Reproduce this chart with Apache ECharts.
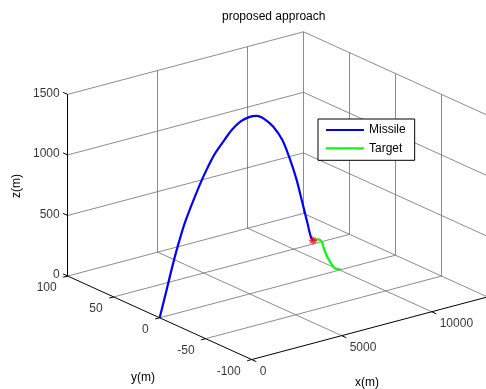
<!DOCTYPE html>
<html>
<head>
<meta charset="utf-8">
<script src="https://cdn.jsdelivr.net/npm/echarts@6/dist/echarts.min.js"></script>
<style>
  html, body { margin: 0; padding: 0; background: #fff; }
  #chart { width: 486px; height: 389px; }
</style>
</head>
<body>
<div id="chart"></div>
<script>
// trajectory samples (metres)
const missileX = [0, 400, 700, 1000, 1400, 1900, 2400, 3000, 3500, 4000, 4500, 5000, 5400, 5800, 6300, 6800, 7200, 7600, 7900, 8200, 8400, 8520];
const missileY = [0, 0, 0, 0, 0, 0, 0, 0, 0, 0, 0, 0, 0, 0, 0, 0, 0, 0, 0, 0, 0, 0];
const missileZ = [0, 225, 395, 550, 730, 905, 1063, 1220, 1310, 1393, 1444, 1462, 1455, 1414, 1331, 1203, 1040, 843, 655, 463, 335, 302];

const targetX = [10017, 9739, 9461, 9183, 9000, 8811, 8520];
const targetY = [0, 0, 0, 0, 0, 0, 0];
const targetZ = [5, 24, 89, 183, 273, 300, 302];

// axes
const xTicks = [0, 5000, 10000];
const yTicks = [-100, -50, 0, 50, 100];
const zTicks = [0, 500, 1000, 1500];
const xLim = [0, 13100];
const yLim = [-100, 100];
const zLim = [0, 1500];

// view: fixed 3d -> screen projection (az/el like the matlab default view)
function proj(x, y, z) {
  return [159.7 + 0.018 * x - 0.92 * y, 317.8 - 0.00478 * x - 0.4175 * y - 0.1211 * z];
}
const seg = (a, b) => ({ coords: [proj(...a), proj(...b)] });

const xmax = xLim[1], ymin = yLim[0], ymax = yLim[1], ztop = zLim[1];

// grey grid on floor and the two back walls
let grid = [];
xTicks.filter(x => x > 0).concat([xmax]).forEach(x => {
  grid.push(seg([x, ymin, 0], [x, ymax, 0]));
  grid.push(seg([x, ymax, 0], [x, ymax, ztop]));
});
yTicks.filter(y => y > ymin).forEach(y => grid.push(seg([0, y, 0], [xmax, y, 0])));
yTicks.filter(y => y < ymax).forEach(y => grid.push(seg([xmax, y, 0], [xmax, y, ztop])));
zTicks.filter(z => z > 0).forEach(z => {
  grid.push(seg([0, ymax, z], [xmax, ymax, z]));
  grid.push(seg([xmax, ymin, z], [xmax, ymax, z]));
});

// black axis lines + ticks
let axes = [
  seg([0, ymax, 0], [0, ymax, ztop]),
  seg([0, ymin, 0], [0, ymax, 0]),
  seg([0, ymin, 0], [xmax, ymin, 0])
];
zTicks.forEach(z => axes.push(seg([0, ymax, z], [0, ymax + 5, z])));
yTicks.forEach(y => axes.push(seg([0, y, 0], [-250, y, 0])));
xTicks.forEach(x => axes.push(seg([x, ymin, 0], [x, ymin - 5, 0])));

// tick labels
let labels = [];
const addLabel = (p, dx, dy, text, align) => labels.push({
  value: [p[0] + dx, p[1] + dy],
  label: { formatter: text, align: align }
});
zTicks.forEach(z => addLabel(proj(0, ymax, z), -8, -1, String(z), 'right'));
yTicks.forEach(y => addLabel(proj(0, y, 0), -11, 12, String(y), 'right'));
xTicks.forEach(x => addLabel(proj(x, ymin, 0), 8, 12, String(x), 'left'));

const missile = missileX.map((x, i) => proj(x, missileY[i], missileZ[i]));
const target = targetX.map((x, i) => proj(x, targetY[i], targetZ[i]));
const hit = [missile[missile.length - 1]];

const font = 'Liberation Sans, Arial, sans-serif';

const chart = echarts.init(document.getElementById('chart'));
chart.setOption({
  animation: false,
  title: {
    text: 'proposed approach',
    left: 222, top: 11, padding: 0,
    textStyle: { fontFamily: font, fontSize: 12, fontWeight: 'normal', color: '#000' }
  },
  grid: { left: 0, right: 0, top: 0, bottom: 0 },
  xAxis: { type: 'value', min: 0, max: 486, show: false },
  yAxis: { type: 'value', min: 0, max: 389, inverse: true, show: false },
  legend: {
    data: ['Missile', 'Target'],
    orient: 'vertical',
    left: 318, top: 119,
    padding: [4, 9, 5, 8],
    itemGap: 4.3,
    itemWidth: 38, itemHeight: 2,
    icon: 'rect',
    backgroundColor: '#fff',
    borderColor: '#000', borderWidth: 1,
    textStyle: { fontFamily: font, fontSize: 12, color: '#000', lineHeight: 14 }
  },
  graphic: [
    { type: 'text', left: 131, top: 372, style: { text: 'y(m)', font: '12px ' + font, fill: '#000' } },
    { type: 'text', left: 355, top: 377, style: { text: 'x(m)', font: '12px ' + font, fill: '#000' } },
    { type: 'text', x: 11, y: 198, rotation: Math.PI / 2, style: { text: 'z(m)', font: '12px ' + font, fill: '#000' } }
  ],
  series: [
    {
      type: 'lines', coordinateSystem: 'cartesian2d', silent: true, z: 1,
      lineStyle: { color: '#6e6e6e', width: 0.8, opacity: 1 },
      data: grid
    },
    {
      type: 'lines', coordinateSystem: 'cartesian2d', silent: true, z: 2,
      lineStyle: { color: '#000', width: 1, opacity: 1 },
      data: axes
    },
    {
      type: 'scatter', silent: true, symbolSize: 0, z: 3,
      label: {
        show: true, position: 'inside', verticalAlign: 'middle',
        fontFamily: font, fontSize: 12, color: '#000'
      },
      data: labels
    },
    {
      name: 'Missile', type: 'line', smooth: 0.3, symbol: 'none', z: 4,
      color: '#0000ff',
      lineStyle: { color: '#0000ff', width: 2.2 },
      data: missile
    },
    {
      name: 'Target', type: 'line', smooth: 0.3, symbol: 'none', z: 4,
      color: '#00ff00',
      lineStyle: { color: '#00ff00', width: 2.2 },
      data: target
    },
    {
      type: 'scatter', silent: true, z: 5,
      symbol: 'path://M0,-5L0,5M-5,0L5,0M-3.5,-3.5L3.5,3.5M-3.5,3.5L3.5,-3.5',
      symbolSize: 8,
      itemStyle: { color: 'none', borderColor: '#ff0000', borderWidth: 1.5 },
      data: hit
    }
  ]
});
</script>
</body>
</html>
